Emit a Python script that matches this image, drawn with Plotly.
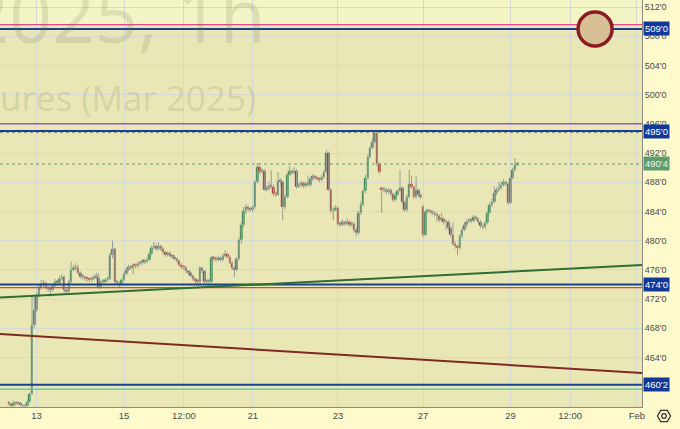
import plotly.graph_objects as go
import math

# ---------------- data ----------------
opens = [457.8,457.6,457.4,457.8,457.6,457.8,457.5,457.3,457.4,457.9,
459.0,468.4,470.5,472.5,473.6,474.0,474.2,473.6,473.4,473.2,
473.8,474.3,474.2,474.8,475.0,473.2,473.0,474.3,476.0,476.3,
476.2,475.6,475.0,475.0,474.8,474.7,474.6,474.8,475.0,474.9,
473.6,474.3,474.4,474.6,474.8,478.0,478.8,474.3,474.2,474.0,
474.6,475.4,476.0,476.4,476.3,476.6,476.5,476.8,476.9,477.2,
477.1,477.4,478.2,479.0,479.2,478.9,479.2,478.9,478.4,478.0,
478.3,477.9,477.8,477.5,477.2,476.7,476.4,476.3,475.8,475.6,
475.2,474.8,474.5,474.3,476.2,475.8,474.4,474.3,474.4,477.6,
477.5,477.4,477.6,477.4,477.9,478.1,477.8,477.0,476.3,476.0,
477.5,480.1,482.1,484.0,484.6,484.4,484.2,484.6,488.0,490.1,
489.4,489.6,487.0,487.1,487.5,487.4,486.4,486.3,488.2,488.0,
484.6,486.0,489.0,489.5,489.3,489.6,487.4,487.6,487.9,487.5,
487.8,487.6,488.4,488.8,488.6,488.5,488.3,488.7,489.4,492.0,
487.0,484.0,484.2,484.5,482.3,482.2,482.5,482.3,482.6,482.2,
482.3,481.5,481.0,483.8,484.9,486.8,488.6,491.5,492.7,493.5,
494.7,490.5,487.2,486.9,487.0,486.6,486.9,486.4,485.6,486.3,
486.8,487.2,485.3,484.2,486.0,487.8,487.4,486.0,486.9,486.2,
484.6,480.8,483.9,484.1,484.0,483.8,483.6,483.4,482.8,482.9,
482.5,482.6,481.7,480.8,479.6,479.2,479.0,480.6,481.5,482.1,
482.6,482.8,482.7,483.2,483.0,482.6,482.0,481.8,482.4,483.8,
484.9,485.3,486.5,486.9,487.2,487.6,488.0,487.8,485.2,488.6,
489.7,490.4]
closes = [457.6,457.4,457.8,457.6,457.8,457.5,457.3,457.4,457.9,459.0,
468.4,470.5,472.5,473.6,474.0,474.2,473.6,473.4,473.2,473.8,
474.3,474.2,474.8,475.0,473.2,473.0,474.3,476.0,476.3,476.2,
475.6,475.0,475.0,474.8,474.7,474.6,474.8,475.0,474.9,473.6,
474.3,474.4,474.6,474.8,478.0,478.8,474.3,474.2,474.0,474.6,
475.4,476.0,476.4,476.3,476.6,476.5,476.8,476.9,477.2,477.1,
477.4,478.2,479.0,479.2,478.9,479.2,478.9,478.4,478.0,478.3,
477.9,477.8,477.5,477.2,476.7,476.4,476.3,475.8,475.6,475.2,
474.8,474.5,474.3,476.2,475.8,474.4,474.3,474.4,477.6,477.5,
477.4,477.6,477.4,477.9,478.1,477.8,477.0,476.3,476.0,477.5,
480.1,482.1,484.0,484.6,484.4,484.2,484.6,488.0,490.1,489.4,
489.6,487.0,487.1,487.5,487.4,486.4,486.3,488.2,488.0,484.6,
486.0,489.0,489.5,489.3,489.6,487.4,487.6,487.9,487.5,487.8,
487.6,488.4,488.8,488.6,488.5,488.3,488.7,489.4,492.0,487.0,
484.0,484.2,484.5,482.3,482.2,482.5,482.3,482.6,482.2,482.3,
481.5,481.0,483.8,484.9,486.8,488.6,491.5,492.7,493.5,494.7,
490.5,489.4,486.9,487.0,486.6,486.9,486.4,485.6,486.3,486.8,
487.2,485.3,484.2,486.0,487.8,487.4,486.0,486.9,486.2,486.0,
480.8,483.9,484.1,484.0,483.8,483.6,483.4,482.8,482.9,482.5,
482.6,481.7,480.8,479.6,479.2,479.0,480.6,481.5,482.1,482.6,
482.8,482.7,483.2,483.0,482.6,482.0,481.8,482.4,483.8,484.9,
485.3,486.5,486.9,487.2,487.6,488.0,487.8,485.2,488.6,489.7,
490.4,490.5]
highs = [458.0,457.8,458.1,457.9,458.0,457.9,457.6,457.6,458.2,459.2,
472.5,472.5,472.9,474.0,474.6,474.6,474.4,473.8,473.6,474.0,
474.8,474.6,475.2,475.4,475.2,473.5,474.6,477.1,476.7,476.9,
476.7,475.8,475.3,475.2,475.0,474.9,475.1,475.4,475.6,475.6,
474.5,474.7,474.9,475.1,478.4,480.0,479.0,474.6,474.4,474.9,
475.7,476.3,476.7,476.6,476.9,476.8,477.1,477.2,477.5,477.4,
477.7,478.5,479.3,479.8,479.5,479.8,479.4,479.1,478.6,478.5,
478.5,478.1,478.0,477.7,477.4,476.9,476.6,476.5,476.0,475.8,
475.4,475.0,474.7,476.5,476.4,476.0,474.7,474.8,477.9,477.9,
477.8,477.9,477.8,478.2,478.7,478.3,478.0,477.2,476.5,477.8,
480.4,482.5,484.6,485.0,484.8,484.6,484.9,488.3,490.6,490.3,
489.9,489.8,487.5,488.0,489.6,487.7,486.7,489.4,488.5,488.2,
486.3,489.3,490.2,489.8,490.0,489.8,487.9,488.2,488.1,488.1,
488.9,488.7,489.1,489.0,488.8,488.7,489.0,489.7,492.4,492.2,
487.2,484.6,484.9,484.7,482.6,482.9,482.7,483.0,482.8,482.6,
482.5,481.7,484.1,485.4,487.1,489.0,491.8,493.0,494.0,494.9,
494.8,490.7,487.4,487.3,487.2,487.2,487.1,486.6,486.6,487.1,
489.7,487.4,485.5,486.3,489.7,488.9,487.6,488.8,487.1,486.5,
484.9,484.2,484.4,484.3,484.2,484.0,483.8,483.6,483.8,483.2,
482.9,482.8,482.0,482.5,479.9,479.5,480.9,481.8,482.5,482.9,
483.1,483.0,483.5,483.4,483.2,482.8,482.2,482.7,484.1,485.2,
485.7,487.4,487.3,488.1,488.0,488.4,488.2,488.0,488.9,490.0,
491.3,490.8]
lows = [457.4,457.2,457.3,457.4,457.5,457.3,457.2,457.2,457.3,457.8,
458.9,468.0,470.2,472.2,473.3,473.7,473.3,473.0,472.3,473.0,
473.6,473.9,474.0,474.6,472.9,472.7,472.9,474.1,475.8,475.9,
475.4,474.8,474.7,474.5,474.4,474.3,474.4,474.6,474.7,473.4,
473.4,474.1,474.2,474.4,474.6,477.6,474.0,473.9,473.5,473.8,
474.4,475.2,475.8,476.0,475.4,476.2,476.3,476.6,476.7,476.8,
476.9,477.2,478.0,478.8,478.6,478.7,478.6,478.1,477.8,477.8,
477.7,477.5,477.3,477.0,476.5,476.1,476.0,475.5,475.3,475.0,
474.5,473.9,474.0,474.1,475.5,474.1,473.9,474.0,474.2,477.2,
477.1,477.2,477.1,477.2,477.7,477.5,476.8,476.0,475.0,475.8,
477.3,479.6,481.8,483.6,484.0,483.9,484.0,484.4,487.8,489.1,
489.2,486.8,486.7,486.9,487.1,486.1,486.0,486.1,487.6,482.8,
484.3,485.8,488.8,489.0,489.1,487.1,487.2,487.4,487.2,487.3,
487.4,487.4,488.2,488.3,488.2,488.0,488.1,488.5,489.2,486.8,
483.7,482.8,484.0,482.0,481.9,482.0,482.0,482.1,481.9,481.9,
481.2,480.6,480.8,483.5,484.7,486.5,488.4,491.2,492.5,493.3,
490.2,489.1,483.8,486.6,486.3,486.4,486.1,485.3,485.4,486.1,
486.6,485.0,483.9,484.0,485.8,487.1,485.7,485.8,485.9,485.7,
480.4,480.6,483.7,483.7,483.5,483.3,482.6,482.5,482.5,482.2,
481.5,481.4,480.5,479.3,478.9,478.0,478.8,480.3,481.3,481.8,
482.4,482.4,482.5,482.8,482.3,481.7,481.5,481.6,482.2,483.6,
484.6,485.1,486.2,486.7,487.0,487.4,487.5,484.9,485.0,488.4,
489.5,490.2]

# x-axis tick positions (bar index) and labels
tick_idx = [12, 50, 76, 106, 143, 180, 218, 244, 273]
tick_txt = ["13", "15", "12:00", "21", "23", "27", "29", "12:00", "Feb"]

# price axis ticks
price_ticks = [464, 468, 472, 476, 480, 484, 488, 492, 496, 500, 504, 508, 512]

# horizontal levels
lvl_pink = 509.6
lvl_509 = 509.0
lvl_purple = 496.0
lvl_495 = 495.0
lvl_high = 494.8
lvl_474 = 474.0
lvl_red = 473.55
lvl_460 = 460.25
lvl_teal = 459.65
last_price = 490.5
green_trend = (472.2, 476.66)   # price at left edge, right edge
brown_trend = (467.2, 461.86)
circle_pos = (254.8, 509.0)

# -------------- figure --------------
BASE = "#e9e7b5"
PAPER = "#fefacb"
UP = "#3a8757"
DOWN = "#a5302c"

fig = go.Figure()

# wicks
wx, wy = [], []
for i, (h, l) in enumerate(zip(highs, lows)):
    wx += [i, i, None]
    wy += [l, h, None]
fig.add_trace(go.Scatter(x=wx, y=wy, mode="lines",
                         line=dict(color="#979e94", width=1),
                         hoverinfo="skip", showlegend=False))

# bodies
base = [min(o, c) for o, c in zip(opens, closes)]
height = [max(abs(c - o), 0.25) for o, c in zip(opens, closes)]
colors = [UP if c >= o else DOWN for o, c in zip(opens, closes)]
fig.add_trace(go.Bar(x=list(range(len(closes))), y=height, base=base,
                     width=1.1, marker=dict(color=colors,
                     line=dict(color="rgba(248,248,222,0.55)", width=0.4)),
                     showlegend=False, hoverinfo="skip"))

shapes = []
# top light band
shapes.append(dict(type="rect", xref="paper", x0=0, x1=1, yref="y",
                   y0=lvl_pink, y1=514, fillcolor="#f3f6c4", line_width=0,
                   layer="below"))

def hline(y, color, width, dash="solid"):
    shapes.append(dict(type="line", xref="paper", x0=0, x1=1, yref="y",
                       y0=y, y1=y, line=dict(color=color, width=width, dash=dash)))

hline(lvl_pink, "#dc4a8c", 1.2)
hline(lvl_509, "#1d3f8f", 2)
hline(lvl_purple, "#9b59c8", 1.5)
hline(lvl_495, "#1d3f8f", 2)
hline(lvl_high, "#8a8f80", 1, "dot")
hline(last_price, "#6a9a7a", 1, "dot")
hline(lvl_474, "#1d3f8f", 2)
hline(lvl_red, "#d8473d", 1.2)
hline(lvl_460, "#1d3f8f", 2)
hline(lvl_teal, "#4fc99a", 1.3)

shapes.append(dict(type="line", xref="paper", x0=0, x1=1, yref="y",
                   y0=green_trend[0], y1=green_trend[1],
                   line=dict(color="#2e6e32", width=2)))
shapes.append(dict(type="line", xref="paper", x0=0, x1=1, yref="y",
                   y0=brown_trend[0], y1=brown_trend[1],
                   line=dict(color="#7e2a22", width=2)))

# circle marker
shapes.append(dict(type="circle", xref="x", yref="y",
                   xsizemode="pixel", ysizemode="pixel",
                   xanchor=circle_pos[0], yanchor=circle_pos[1],
                   x0=-17, x1=17, y0=-17, y1=17,
                   fillcolor="#d8c096", line=dict(color="#8c1c22", width=3.5)))

# settings icon (hexagon) in the corner
W, H = 642.0, 407.0
cx, cy = 664, 416
r = 6.5
pts = [(cx + r * math.cos(math.radians(a)), cy + r * math.sin(math.radians(a)))
       for a in range(0, 360, 60)]
path = "M " + " L ".join(f"{px / W:.5f},{(H - py) / H:.5f}" for px, py in pts) + " Z"
shapes.append(dict(type="path", xref="paper", yref="paper", path=path,
                   line=dict(color="#333", width=1.3)))
shapes.append(dict(type="circle", xref="paper", yref="paper",
                   x0=(cx - 2.3) / W, x1=(cx + 2.3) / W,
                   y0=(H - cy - 2.3) / H, y1=(H - cy + 2.3) / H,
                   line=dict(color="#333", width=1.3)))

annotations = []
# watermark
annotations.append(dict(text="ZCH2025, 1h", xref="paper", yref="paper",
                        x=268 / W, y=(H - 14) / H, xanchor="right", yanchor="middle",
                        showarrow=False,
                        font=dict(family="Open Sans", size=75, color="rgba(110,110,80,0.17)")))
annotations.append(dict(text="Corn Futures (Mar 2025)", xref="paper", yref="paper",
                        x=258 / W, y=(H - 97) / H, xanchor="right", yanchor="middle",
                        showarrow=False,
                        font=dict(family="Open Sans", size=35, color="rgba(110,110,80,0.17)")))

def price_label(y, txt, bg, fg="white"):
    annotations.append(dict(text=txt, xref="paper", yref="y", x=1, y=y,
                            xanchor="left", yanchor="middle", xshift=1,
                            showarrow=False, bgcolor=bg, borderpad=1,
                            font=dict(family="Liberation Sans", size=9.5, color=fg)))

price_label(lvl_509, "509'0", "#12389a")
price_label(lvl_495, "495'0", "#12389a")
price_label(lvl_474, "474'0", "#12389a")
price_label(lvl_460, "460'2", "#12389a")
price_label(last_price, "490'4", "#5e9c72", "#f0f5e8")

fig.update_layout(
    width=680, height=429,
    margin=dict(l=0, r=38, t=0, b=22, autoexpand=False),
    paper_bgcolor=PAPER, plot_bgcolor=BASE,
    shapes=shapes, annotations=annotations,
    showlegend=False, bargap=0, barmode="overlay",
    xaxis=dict(range=[-3.91, 275.2], tickvals=tick_idx, ticktext=tick_txt,
               showgrid=True, gridcolor="#d8d8d2", gridwidth=1, zeroline=False,
               showline=True, linecolor="#8a8a80", linewidth=1,
               tickfont=dict(family="Liberation Sans", size=9.5, color="#4a4a4a"),
               ticks="", fixedrange=True),
    yaxis=dict(range=[457.21, 512.96], side="right", tickvals=price_ticks,
               ticktext=[f"{t}'0" for t in price_ticks],
               showgrid=True, gridcolor="#d8d8d2", gridwidth=1, zeroline=False,
               showline=True, linecolor="#8a8a80", linewidth=1,
               tickfont=dict(family="Liberation Sans", size=9, color="#4a4a4a"),
               ticks="", fixedrange=True),
)

fig.write_html("out.html", config={"displayModeBar": False},
               post_script="document.body.style.margin='0';")
